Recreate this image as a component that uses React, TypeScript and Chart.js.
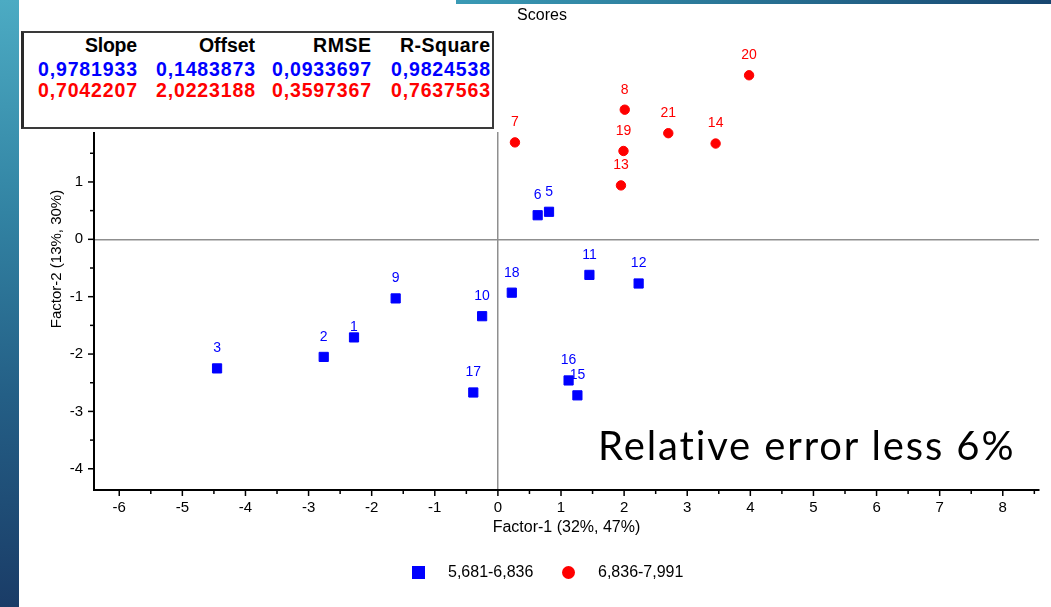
import React, { useEffect, useRef } from 'react';
import { Chart, registerables } from 'chart.js';

Chart.register(...registerables);

// ---- data ----
const blueIds = ['1', '2', '3', '5', '6', '9', '10', '11', '12', '15', '16', '17', '18'];
const blueX = [-2.28, -2.76, -4.45, 0.81, 0.63, -1.62, -0.25, 1.45, 2.23, 1.26, 1.12, -0.39, 0.22];
const blueY = [-1.71, -2.05, -2.25, 0.48, 0.42, -1.03, -1.34, -0.62, -0.77, -2.72, -2.46, -2.67, -0.93];

const redIds = ['7', '8', '13', '14', '19', '20', '21'];
const redX = [0.27, 2.01, 1.95, 3.45, 1.99, 3.98, 2.7];
const redY = [1.69, 2.26, 0.94, 1.67, 1.54, 2.86, 1.85];

const seriesNames = ['5,681-6,836', '6,836-7,991'];
const seriesColors = ['#0000ff', '#ff0000'];

const tableHeaders = ['Slope', 'Offset', 'RMSE', 'R-Square'];
const blueStats = ['0,9781933', '0,1483873', '0,0933697', '0,9824538'];
const redStats = ['0,7042207', '2,0223188', '0,3597367', '0,7637563'];

const chartTitle = 'Scores';
const xTitle = 'Factor-1 (32%, 47%)';
const yTitle = 'Factor-2 (13%, 30%)';
const noteText = 'Relative error less 6%';

const xMin = -6.4;
const xMax = 8.574;
const yMin = -4.37;
const yMax = 3.684;

// label lift (px above point); default 20
const labelLift: Record<string, number> = { '1': 10 };

const FONT = '"Liberation Sans", Arial, Helvetica, sans-serif';

let measureCtx: CanvasRenderingContext2D | null = null;
function spacingFor(text: string, font: string, target: number): number {
  if (!measureCtx) measureCtx = document.createElement('canvas').getContext('2d');
  if (!measureCtx) return 0;
  measureCtx.font = font;
  const w = measureCtx.measureText(text).width;
  return (target - w) / Math.max(1, text.length - 1);
}

const pointLabels = {
  id: 'pointLabels',
  afterDatasetsDraw(chart: any) {
    const ctx = chart.ctx;
    ctx.save();
    ctx.font = `14px ${FONT}`;
    ctx.textAlign = 'center';
    ctx.textBaseline = 'middle';
    chart.data.datasets.forEach((ds: any, i: number) => {
      const meta = chart.getDatasetMeta(i);
      ctx.fillStyle = ds.backgroundColor;
      meta.data.forEach((el: any, j: number) => {
        const id = ds.data[j].id;
        const lift = labelLift[id] ?? 20;
        ctx.fillText(id, el.x, el.y - lift);
      });
    });
    ctx.restore();
  },
};

const tickMarks = {
  id: 'tickMarks',
  afterDraw(chart: any) {
    const { ctx, chartArea } = chart;
    const xs = chart.scales.x;
    const ys = chart.scales.y;
    ctx.save();
    ctx.strokeStyle = '#000';
    ctx.lineWidth = 1.5;
    xs.ticks.forEach((t: any) => {
      const px = xs.getPixelForValue(t.value);
      const len = Number.isInteger(t.value) ? 5 : 3;
      ctx.beginPath();
      ctx.moveTo(px, chartArea.bottom + 1);
      ctx.lineTo(px, chartArea.bottom + 1 + len);
      ctx.stroke();
    });
    ys.ticks.forEach((t: any) => {
      const py = ys.getPixelForValue(t.value);
      const len = Number.isInteger(t.value) ? 5 : 3;
      ctx.beginPath();
      ctx.moveTo(chartArea.left - 1, py);
      ctx.lineTo(chartArea.left - 1 - len, py);
      ctx.stroke();
    });
    ctx.restore();
  },
};

export default function App() {
  const ref = useRef<HTMLCanvasElement>(null);

  useEffect(() => {
    if (!ref.current) return;
    const zeroGrid = (c: any) => (c.tick && c.tick.value === 0 ? '#8f8f8f' : 'rgba(0,0,0,0)');
    const chart = new Chart(ref.current, {
      type: 'scatter',
      data: {
        datasets: [
          {
            label: seriesNames[0],
            data: blueX.map((x, i) => ({ x, y: blueY[i], id: blueIds[i] })),
            backgroundColor: seriesColors[0],
            borderColor: seriesColors[0],
            borderWidth: 1,
            pointStyle: 'rect',
            pointRadius: 6.5,
          },
          {
            label: seriesNames[1],
            data: redX.map((x, i) => ({ x, y: redY[i], id: redIds[i] })),
            backgroundColor: seriesColors[1],
            borderColor: seriesColors[1],
            borderWidth: 1,
            pointStyle: 'circle',
            pointRadius: 4.7,
          },
        ],
      } as any,
      options: {
        animation: false,
        responsive: false,
        devicePixelRatio: 1,
        events: [],
        layout: { padding: { left: 20, top: 28, right: 12, bottom: 0 } },
        plugins: {
          legend: { display: false },
          tooltip: { enabled: false },
          title: { display: false },
        },
        scales: {
          x: {
            type: 'linear',
            min: xMin,
            max: xMax,
            afterFit: (s: any) => {
              s.height = 117;
            },
            ticks: {
              stepSize: 0.5,
              autoSkip: false,
              includeBounds: false,
              maxRotation: 0,
              padding: 9,
              color: '#000',
              font: { family: FONT, size: 15 },
              callback: (v: any) => (Number.isInteger(v) ? String(v) : ''),
            },
            grid: {
              display: true,
              drawOnChartArea: true,
              drawTicks: false,
              color: zeroGrid,
              lineWidth: 1.5,
            },
            border: { display: true, color: '#000', width: 2 },
            title: {
              display: true,
              text: xTitle,
              color: '#000',
              font: { family: FONT, size: 16 },
              padding: { top: 0, bottom: 69.4 },
            },
          },
          y: {
            type: 'linear',
            min: yMin,
            max: yMax,
            afterFit: (s: any) => {
              s.width = 74;
            },
            ticks: {
              stepSize: 0.5,
              autoSkip: false,
              includeBounds: false,
              padding: 11,
              color: '#000',
              font: { family: FONT, size: 15 },
              callback: (v: any) => (Number.isInteger(v) ? String(v) : ''),
            },
            grid: {
              display: true,
              drawOnChartArea: true,
              drawTicks: false,
              color: zeroGrid,
              lineWidth: 1.5,
            },
            border: { display: true, color: '#000', width: 2 },
            title: {
              display: true,
              text: yTitle,
              color: '#000',
              font: { family: FONT, size: 15 },
              padding: { top: 28, bottom: 0 },
            },
          },
        },
      } as any,
      plugins: [pointLabels, tickMarks],
    });
    return () => chart.destroy();
  }, []);

  const tableSize = 19.5;
  const tableFont = `bold ${tableSize}px ${FONT}`;
  const colRight = [137, 255, 371, 490];
  const headerWidths = [52, 56, 58, 90];
  const valueWidth = 99;
  const rowBase = [53, 77, 98];

  const cell = (text: string, col: number, row: number, color: string, target: number) => {
    const ls = spacingFor(text, tableFont, target);
    return (
      <span
        key={`${row}-${col}`}
        style={{
          position: 'absolute',
          right: 1051 - colRight[col] - ls,
          top: rowBase[row] - 0.8465 * tableSize,
          font: tableFont,
          lineHeight: `${tableSize}px`,
          letterSpacing: `${ls}px`,
          color,
          whiteSpace: 'nowrap',
        }}
      >
        {text}
      </span>
    );
  };

  const noteFont = `400 40px Lato, ${FONT}`;
  const noteLs = spacingFor(noteText, noteFont, 417);

  return (
    <div
      style={{
        position: 'fixed',
        left: 0,
        top: 0,
        width: 1051,
        height: 607,
        background: '#fff',
        overflow: 'hidden',
        fontFamily: FONT,
      }}
    >
      <canvas ref={ref} width={1051} height={607} style={{ position: 'absolute', left: 0, top: 0 }} />

      {/* decorative slide bars */}
      <div
        style={{
          position: 'absolute',
          left: 0,
          top: 0,
          width: 19,
          height: 607,
          background: 'linear-gradient(to bottom, #4cabc3 0%, #3283a3 35%, #245f86 65%, #1a3c67 100%)',
        }}
      />
      <div
        style={{
          position: 'absolute',
          left: 456,
          top: 0,
          width: 595,
          height: 4,
          background: 'linear-gradient(to right, #3a9ab5 0%, #2a7697 45%, #174670 100%)',
        }}
      />

      {/* title */}
      <div
        style={{
          position: 'absolute',
          left: 442,
          width: 200,
          top: 20.7 - 0.8465 * 16,
          textAlign: 'center',
          font: `16px ${FONT}`,
          lineHeight: '16px',
          color: '#000',
        }}
      >
        {chartTitle}
      </div>

      {/* statistics table */}
      <div style={{ position: 'absolute', left: 19, top: 20, width: 482, height: 112, background: '#fff' }} />
      <div
        style={{
          position: 'absolute',
          left: 21,
          top: 31,
          width: 473,
          height: 98,
          boxSizing: 'border-box',
          borderTop: '2px solid #3a3a3a',
          borderRight: '2px solid #3a3a3a',
          borderBottom: '2px solid #3a3a3a',
          borderLeft: '3px solid #2a2a2a',
        }}
      />
      {tableHeaders.map((h, i) => cell(h, i, 0, '#000', headerWidths[i]))}
      {blueStats.map((v, i) => cell(v, i, 1, seriesColors[0], valueWidth))}
      {redStats.map((v, i) => cell(v, i, 2, seriesColors[1], valueWidth))}

      {/* note */}
      <div
        style={{
          position: 'absolute',
          left: 598,
          top: 460 - 0.887 * 40,
          font: noteFont,
          lineHeight: '40px',
          letterSpacing: `${noteLs}px`,
          color: '#000',
          whiteSpace: 'nowrap',
        }}
      >
        {noteText}
      </div>

      {/* legend */}
      <div
        style={{
          position: 'absolute',
          left: 411.7,
          top: 566,
          width: 13.3,
          height: 13.3,
          background: seriesColors[0],
        }}
      />
      <div
        style={{
          position: 'absolute',
          left: 448,
          top: 578 - 0.8465 * 16,
          font: `16px ${FONT}`,
          lineHeight: '16px',
          color: '#000',
          whiteSpace: 'nowrap',
        }}
      >
        {seriesNames[0]}
      </div>
      <div
        style={{
          position: 'absolute',
          left: 561.7,
          top: 566,
          width: 13.3,
          height: 13.3,
          borderRadius: '50%',
          background: seriesColors[1],
        }}
      />
      <div
        style={{
          position: 'absolute',
          left: 598,
          top: 578 - 0.8465 * 16,
          font: `16px ${FONT}`,
          lineHeight: '16px',
          color: '#000',
          whiteSpace: 'nowrap',
        }}
      >
        {seriesNames[1]}
      </div>
    </div>
  );
}
